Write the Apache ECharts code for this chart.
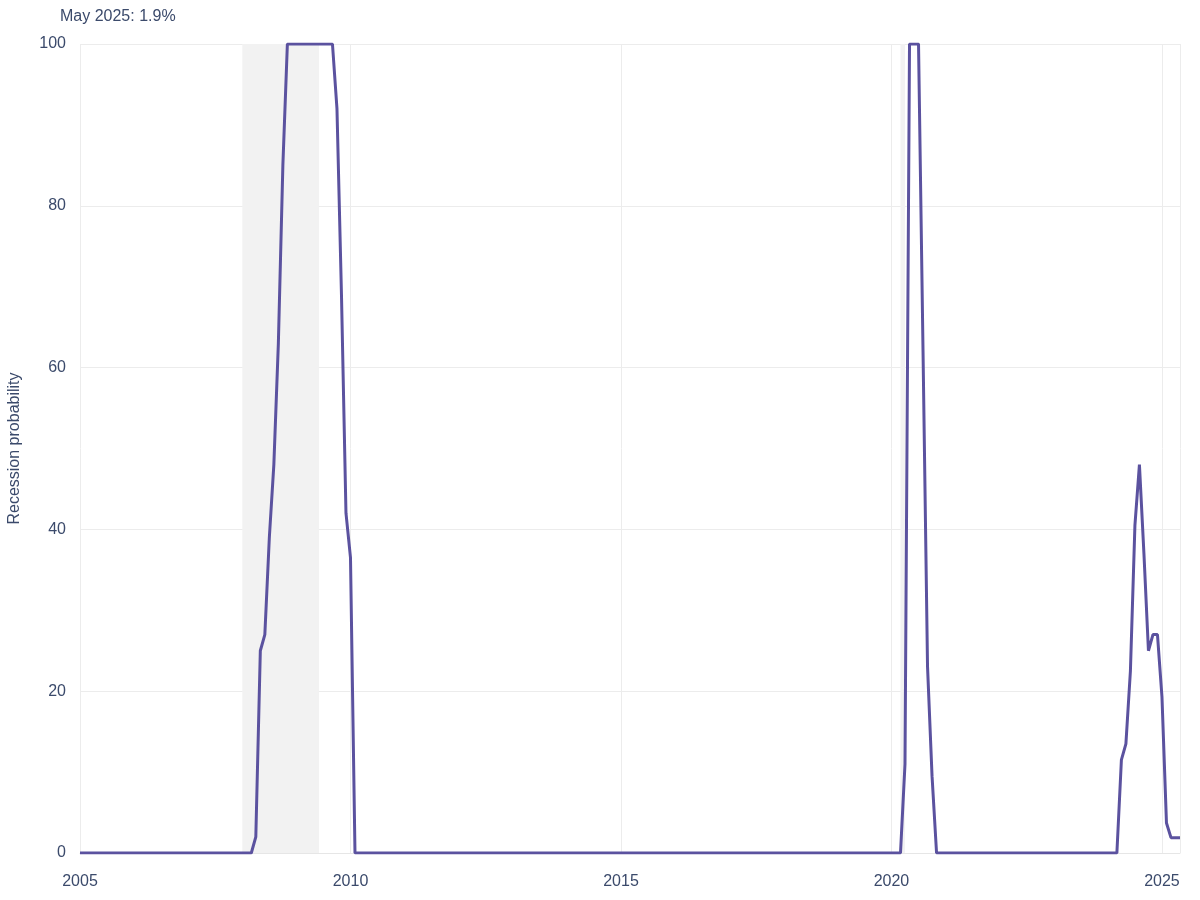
<!DOCTYPE html>
<html>
<head>
<meta charset="utf-8">
<script src="https://cdn.jsdelivr.net/npm/echarts@6/dist/echarts.min.js"></script>
<style>html,body{margin:0;padding:0;background:#fff}#c{width:1200px;height:900px}</style>
</head>
<body>
<div id="c"></div>
<script>
// Monthly series, Jan 2005 – May 2025
const startYear = 2005;
const titleText = 'May 2025: 1.9%';
const yAxisName = 'Recession probability';
const xTicks = [2005, 2010, 2015, 2020, 2025];
const yTicks = [0, 20, 40, 60, 80, 100];
// recession shading (start, end) as [year, monthIndex0]
const recessions = [[[2008, 0], [2009, 5]], [[2020, 2], [2020, 3]]];
const values = [
  // 2005
  0,0,0,0,0,0,0,0,0,0,0,0,
  // 2006
  0,0,0,0,0,0,0,0,0,0,0,0,
  // 2007
  0,0,0,0,0,0,0,0,0,0,0,0,
  // 2008
  0,0,0,2,25,27,39,48,63,85,100,100,
  // 2009
  100,100,100,100,100,100,100,100,100,92,69,42,
  // 2010
  36.5,0,0,0,0,0,0,0,0,0,0,0,
  // 2011
  0,0,0,0,0,0,0,0,0,0,0,0,
  // 2012
  0,0,0,0,0,0,0,0,0,0,0,0,
  // 2013
  0,0,0,0,0,0,0,0,0,0,0,0,
  // 2014
  0,0,0,0,0,0,0,0,0,0,0,0,
  // 2015
  0,0,0,0,0,0,0,0,0,0,0,0,
  // 2016
  0,0,0,0,0,0,0,0,0,0,0,0,
  // 2017
  0,0,0,0,0,0,0,0,0,0,0,0,
  // 2018
  0,0,0,0,0,0,0,0,0,0,0,0,
  // 2019
  0,0,0,0,0,0,0,0,0,0,0,0,
  // 2020
  0,0,0,11,100,100,100,62,23,9.5,0,0,
  // 2021
  0,0,0,0,0,0,0,0,0,0,0,0,
  // 2022
  0,0,0,0,0,0,0,0,0,0,0,0,
  // 2023
  0,0,0,0,0,0,0,0,0,0,0,0,
  // 2024
  0,0,0,11.5,13.5,22.5,40.5,48,37,25,27,27,
  // 2025
  19.3,3.7,1.9,1.9,1.9
];

const ym = (y, m) => y + m / 12;
const seriesData = values.map((v, i) => [ym(startYear + Math.floor(i / 12), i % 12), v]);
const xMax = seriesData[seriesData.length - 1][0];
const textColor = '#3b4a6b';
const font = 'Liberation Sans, Arial, sans-serif';

const chart = echarts.init(document.getElementById('c'));
chart.setOption({
  animation: false,
  title: {
    text: titleText, left: 55, top: 4,
    textStyle: { color: textColor, fontSize: 16, fontWeight: 'normal', fontFamily: font }
  },
  grid: { left: 80, right: 20, top: 44, bottom: 47, containLabel: false, outerBoundsMode: 'none' },
  xAxis: {
    type: 'value', min: startYear, max: xMax, interval: 5,
    axisLine: { show: true, lineStyle: { color: '#e6e6e6', width: 1 } },
    axisTick: { show: false },
    splitLine: { show: true, lineStyle: { color: '#ececec', width: 1 } },
    axisLabel: {
      color: textColor, fontSize: 16, fontFamily: font, margin: 21,
      customValues: xTicks, formatter: v => String(Math.round(v))
    }
  },
  yAxis: {
    type: 'value', min: 0, max: 100, interval: 20,
    name: yAxisName, nameLocation: 'middle', nameGap: 57, nameRotate: 90,
    nameTextStyle: { color: textColor, fontSize: 16, fontFamily: font },
    axisLine: { show: false }, axisTick: { show: false },
    splitLine: { show: true, lineStyle: { color: '#ececec', width: 1 } },
    axisLabel: { color: textColor, fontSize: 16, fontFamily: font, margin: 14 }
  },
  series: [{
    type: 'line', data: seriesData, showSymbol: false, symbol: 'none',
    lineStyle: { color: '#5b529f', width: 3 },
    z: 3,
    markArea: {
      silent: true,
      itemStyle: { color: '#f2f2f2' },
      data: recessions.map(r => [{ xAxis: ym(r[0][0], r[0][1]) }, { xAxis: ym(r[1][0], r[1][1]) }])
    }
  }]
});
</script>
</body>
</html>
